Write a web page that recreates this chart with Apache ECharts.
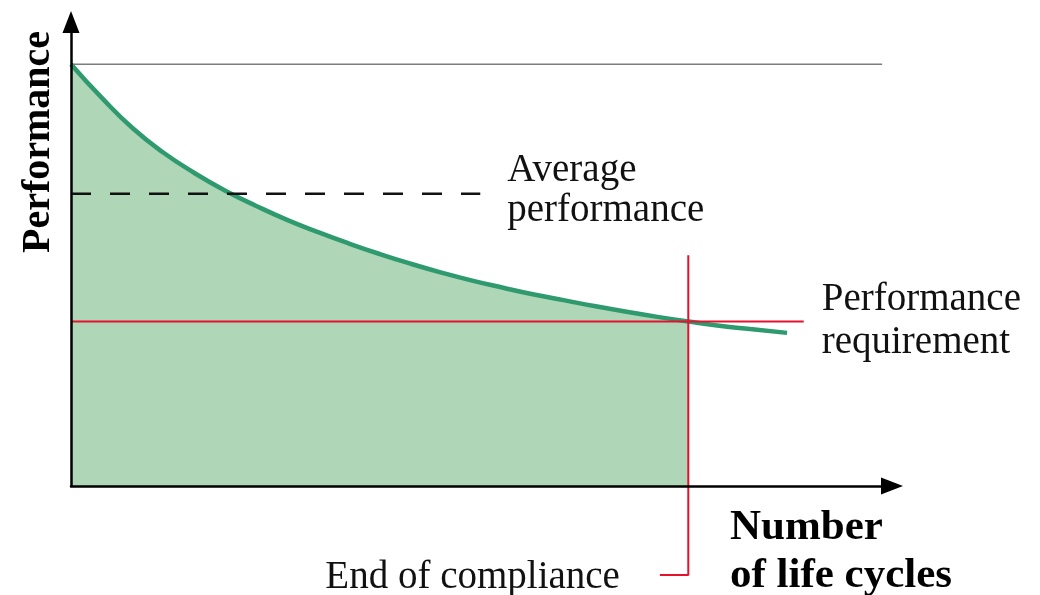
<!DOCTYPE html>
<html>
<head>
<meta charset="utf-8">
<script src="https://cdn.jsdelivr.net/npm/echarts@6/dist/echarts.min.js"></script>
<style>
html,body{margin:0;padding:0;background:#fff;}
#chart{width:1040px;height:595px;}
</style>
</head>
<body>
<div id="chart"></div>
<script>
// Number of life cycles (x) and performance (y)
var cycles      = [0, 5, 10, 15, 20, 25, 30, 35, 40, 45, 50, 55, 60, 65, 70, 75, 80, 85, 90, 95, 100, 105, 110, 116];
var performance = [100, 92.0, 84.8, 79.0, 74.2, 70.0, 66.4, 63.1, 60.2, 57.5, 55.0, 52.7, 50.6, 48.7, 47.0, 45.4, 44.0, 42.6, 41.3, 40.1, 39.0, 38.0, 37.2, 36.3];

var initialPerformance = 100;   // grey reference line
var topLineEnd = 131.4;
var averagePerformance = 69.3;  // dashed line
var averageLineEnd = 66.3;
var requiredPerformance = 39;   // red horizontal line
var requirementLineEnd = 118.7;
var endOfCompliance = 100;      // red vertical line
var complianceTop = 54.7;
var complianceBottom = -21.1;
var complianceTickEnd = 95.4;

var labelAverage = 'Average\nperformance';
var labelRequirement = 'Performance\nrequirement';
var labelCompliance = 'End of compliance';
var xName = 'Number\nof life cycles';
var yName = 'Performance';

var curve = cycles.map(function (c, i) { return [c, performance[i]]; });
var fillPart = curve.filter(function (p) { return p[0] <= endOfCompliance; });

var serif = '"Liberation Serif", "Times New Roman", serif';
var txt = { fontFamily: serif, fontSize: 39, lineHeight: 43, color: '#111' };

var chart = echarts.init(document.getElementById('chart'), null, { renderer: 'canvas' });
chart.setOption({
  animation: false,
  backgroundColor: '#fff',
  grid: { left: 71, right: 148, top: 22, bottom: 109, containLabel: false },
  xAxis: {
    type: 'value', min: 0, max: 133, z: 10,
    axisLine: { show: true, lineStyle: { color: '#000', width: 2.5 }, symbol: ['none', 'triangle'], symbolSize: [17, 22] },
    axisTick: { show: false }, axisLabel: { show: false }, splitLine: { show: false }
  },
  yAxis: {
    type: 'value', min: 0, max: 110, z: 10,
    axisLine: { show: true, lineStyle: { color: '#000', width: 2.5 }, symbol: ['none', 'triangle'], symbolSize: [17, 22] },
    axisTick: { show: false }, axisLabel: { show: false }, splitLine: { show: false }
  },
  series: [
    {
      type: 'line', data: fillPart, smooth: 0.5, showSymbol: false,
      lineStyle: { width: 0 }, areaStyle: { color: '#afd6b6', opacity: 1 }, z: 1
    },
    {
      type: 'line', data: [[0, initialPerformance], [topLineEnd, initialPerformance]],
      showSymbol: false, lineStyle: { color: '#7d7d7d', width: 1.5 }, z: 2
    },
    {
      type: 'line', data: curve, smooth: 0.5, showSymbol: false,
      lineStyle: { color: '#2e9a6e', width: 4.5 }, z: 3
    },
    {
      type: 'line', symbol: 'circle', symbolSize: 0, showSymbol: true,
      data: [[0, averagePerformance],
             { value: [averageLineEnd, averagePerformance],
               label: Object.assign({}, txt, { show: true, position: 'right', distance: 27, offset: [0, -3], lineHeight: 40, formatter: labelAverage }) }],
      lineStyle: { color: '#111', width: 2.5, type: [20, 19] }, z: 4
    },
    {
      type: 'line', symbol: 'circle', symbolSize: 0, showSymbol: true,
      data: [[0, requiredPerformance],
             { value: [requirementLineEnd, requiredPerformance],
               label: Object.assign({}, txt, { show: true, position: 'right', distance: 18, formatter: labelRequirement }) }],
      lineStyle: { color: '#e6112e', width: 2 }, z: 5
    },
    {
      type: 'line', symbol: 'circle', symbolSize: 0, showSymbol: true, clip: false,
      data: [[endOfCompliance, complianceTop], [endOfCompliance, complianceBottom],
             { value: [complianceTickEnd, complianceBottom],
               label: Object.assign({}, txt, { show: true, position: 'left', distance: 40, offset: [0, 3], formatter: labelCompliance }) }],
      lineStyle: { color: '#e6112e', width: 2 }, z: 5
    }
  ],
  graphic: [
    {
      type: 'text', x: 39, y: 142, rotation: Math.PI / 2,
      style: { text: yName, font: 'bold 40px ' + serif, fill: '#000', align: 'center', verticalAlign: 'middle' }
    },
    {
      type: 'text', left: 730, top: 504,
      style: { text: xName, font: 'bold 43px ' + serif, lineHeight: 48, fill: '#000' }
    }
  ]
});
</script>
</body>
</html>
